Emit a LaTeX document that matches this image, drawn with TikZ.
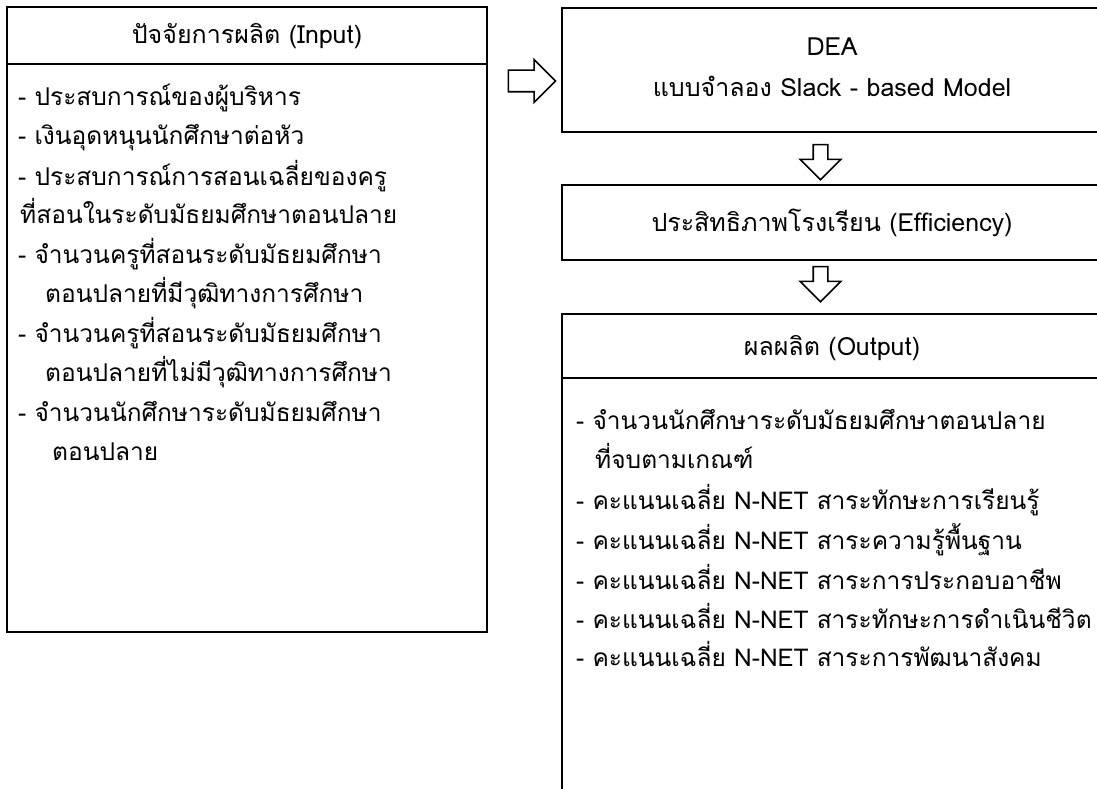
\documentclass[tikz,border=0pt]{standalone}
\usepackage{fontspec}
\setmainfont[Script=Thai]{Loma}
\usetikzlibrary{shapes.arrows}

\begin{document}
\begin{tikzpicture}[x=1pt, y=-1pt,
		box/.style={rectangle, draw=black, line width=1.8pt, inner sep=0pt},
		linetext/.style={anchor=base west, inner sep=0pt, font=\fontsize{24.5}{30}\selectfont},
		headtext/.style={anchor=base, inner sep=0pt, font=\fontsize{25}{30}\selectfont},
		blockarrow/.style={draw=black, line width=1.6pt, single arrow, single arrow tip angle=90}]
	\clip (0,0) rectangle (1097,789);

	% Boxes on the left
	\node[box, minimum width=480pt, minimum height=57pt] (inhead) at (247, 35.5) {};
	\node[box, minimum width=480pt, minimum height=568pt] (inbody) at (247, 348) {};

	% Boxes on the right
	\node[box, minimum width=540pt, minimum height=124pt] (dea) at (832, 70) {};
	\node[box, minimum width=540pt, minimum height=75pt] (eff) at (832, 222.5) {};
	\node[box, minimum width=540pt, minimum height=64pt] (outhead) at (832, 346) {};
	\node[box, minimum width=540pt, minimum height=560pt] (outbody) at (832, 658) {};

	% Block arrows
	\node[blockarrow, minimum height=47pt, inner sep=10pt, single arrow head extend=10.5pt] (arrA) at (526.5, 81) {};
	\node[blockarrow, shape border rotate=270, minimum height=35pt, inner sep=6.5pt, single arrow head extend=13pt] (arrB) at (820.5, 158.5) {};
	\node[blockarrow, shape border rotate=270, minimum height=35pt, inner sep=6.5pt, single arrow head extend=13pt] (arrC) at (820.5, 280.5) {};

	% Headings
	\node[headtext] (intitle) at (247, 44) {ปัจจัยการผลิต (Input)};
	\node[headtext] (deatitle) at (832, 56) {DEA};
	\node[headtext] (deamodel) at (832, 97) {แบบจำลอง Slack - based Model};
	\node[headtext] (efftitle) at (832, 231) {ประสิทธิภาพโรงเรียน (Efficiency)};
	\node[headtext] (outtitle) at (832, 355) {ผลผลิต (Output)};

	% Input list
	\node[linetext] (in1) at (18, 106) {- ประสบการณ์ของผู้บริหาร};
	\node[linetext] (in2) at (18, 145) {- เงินอุดหนุนนักศึกษาต่อหัว};
	\node[linetext] (in3) at (18, 185) {- ประสบการณ์การสอนเฉลี่ยของครู};
	\node[linetext] (in4) at (20, 223) {ที่สอนในระดับมัธยมศึกษาตอนปลาย};
	\node[linetext] (in5) at (18, 263) {- จำนวนครูที่สอนระดับมัธยมศึกษา};
	\node[linetext] (in6) at (45, 302) {ตอนปลายที่มีวุฒิทางการศึกษา};
	\node[linetext] (in7) at (18, 342) {- จำนวนครูที่สอนระดับมัธยมศึกษา};
	\node[linetext] (in8) at (45, 381) {ตอนปลายที่ไม่มีวุฒิทางการศึกษา};
	\node[linetext] (in9) at (18, 421) {- จำนวนนักศึกษาระดับมัธยมศึกษา};
	\node[linetext] (in10) at (52, 460) {ตอนปลาย};

	% Output list
	\node[linetext] (out1) at (576, 429) {- จำนวนนักศึกษาระดับมัธยมศึกษาตอนปลาย};
	\node[linetext] (out2) at (595, 468) {ที่จบตามเกณฑ์};
	\node[linetext] (out3) at (576, 509) {- คะแนนเฉลี่ย N-NET สาระทักษะการเรียนรู้};
	\node[linetext] (out4) at (576, 549) {- คะแนนเฉลี่ย N-NET สาระความรู้พื้นฐาน};
	\node[linetext] (out5) at (576, 589) {- คะแนนเฉลี่ย N-NET สาระการประกอบอาชีพ};
	\node[linetext] (out6) at (576, 628) {- คะแนนเฉลี่ย N-NET สาระทักษะการดำเนินชีวิต};
	\node[linetext] (out7) at (576, 666) {- คะแนนเฉลี่ย N-NET สาระการพัฒนาสังคม};

\end{tikzpicture}
\end{document}
